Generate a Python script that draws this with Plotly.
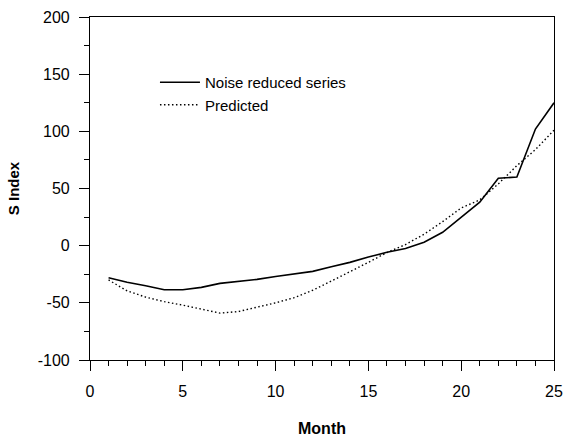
import plotly.graph_objects as go

months = list(range(1, 26))
noise_reduced = [-28, -32, -35, -38.5, -38.5, -36.5, -33, -31.3, -29.5, -27, -25, -22.5,
                 -18.5, -14.6, -10, -5.8, -2.5, 3, 11.7, 24.8, 38, 59, 60, 102, 125]
predicted = [-30, -39.5, -45, -49, -52, -55.6, -59, -57.6, -54, -50, -45.5, -39,
             -31, -23, -14.6, -6, 1, 10, 21, 33, 40, 54, 70, 84, 101]

x_ticks = [0, 5, 10, 15, 20, 25]
y_ticks = [-100, -50, 0, 50, 100, 150, 200]

FONT = "Liberation Sans, Arial, sans-serif"

fig = go.Figure()
fig.add_trace(go.Scatter(x=months, y=noise_reduced, mode="lines", name="Noise reduced series",
                         line=dict(color="black", width=1.6)))
fig.add_trace(go.Scatter(x=months, y=predicted, mode="lines", name="Predicted",
                         line=dict(color="black", width=1.4, dash="1.5px,2.5px")))

fig.update_layout(
    width=566, height=437,
    margin=dict(l=90, r=12, t=17, b=77),
    paper_bgcolor="white", plot_bgcolor="white",
    font=dict(family=FONT, color="black", size=16),
    showlegend=True,
    legend=dict(x=0.14, y=0.857, xanchor="left", yanchor="top",
                bgcolor="rgba(0,0,0,0)", font=dict(size=15, family=FONT),
                tracegroupgap=0, itemwidth=40),
)
fig.update_xaxes(
    range=[0, 25], tickvals=x_ticks, ticktext=[str(v) for v in x_ticks],
    showline=True, linecolor="black", linewidth=1.2, mirror=True,
    ticks="outside", ticklen=10, tickwidth=1.2, tickcolor="black",
    minor=dict(dtick=1, ticks="outside", ticklen=5, tickwidth=1, tickcolor="black"),
    showgrid=False, zeroline=False, automargin=False,
    tickfont=dict(size=16), ticklabelstandoff=7,
    title=dict(text="<b>Month</b>", font=dict(size=16), standoff=23),
)
fig.update_yaxes(
    range=[-100, 200], tickvals=y_ticks, ticktext=[str(v) for v in y_ticks],
    showline=True, linecolor="black", linewidth=1.2, mirror=True,
    ticks="outside", ticklen=10, tickwidth=1.2, tickcolor="black",
    minor=dict(dtick=25, ticks="outside", ticklen=5, tickwidth=1, tickcolor="black"),
    showgrid=False, zeroline=False, automargin=False,
    tickfont=dict(size=16), ticklabelstandoff=6,
    title=dict(text="<b>S Index</b>", font=dict(size=15), standoff=14),
)

fig.write_html("out.html")
